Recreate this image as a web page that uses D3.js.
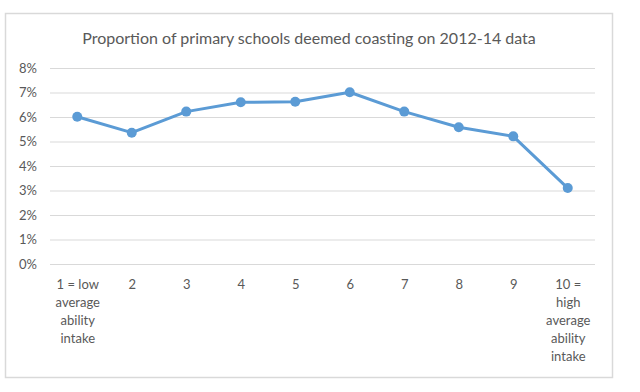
<!DOCTYPE html>
<html>
<head>
<meta charset="utf-8">
<script src="https://cdn.jsdelivr.net/npm/d3@7/dist/d3.min.js"></script>
<style>
  html, body { margin: 0; padding: 0; background: #ffffff; }
  svg { display: block; }
</style>
</head>
<body>
<svg id="chart" width="640" height="392"></svg>
<script>
const title = "Proportion of primary schools deemed coasting on 2012-14 data";
const categories = ["1","2","3","4","5","6","7","8","9","10"];
const categoryLabels = [
  "1 = low\naverage\nability\nintake",
  "2","3","4","5","6","7","8","9",
  "10 =\nhigh\naverage\nability\nintake"
];
const values = [6.01, 5.36, 6.22, 6.60, 6.62, 7.01, 6.22, 5.58, 5.21, 3.10];
const yTicks = [0, 1, 2, 3, 4, 5, 6, 7, 8];

const svg = d3.select("#chart");
const font = "Lato, 'Open Sans', sans-serif";
const textColor = "#595959";

// outer chart border
svg.append("rect")
  .attr("x", 5.5).attr("y", 13.5)
  .attr("width", 607).attr("height", 364)
  .attr("fill", "#ffffff")
  .attr("stroke", "#d9d9d9")
  .attr("stroke-width", 1.5);

const plotLeft = 50, plotRight = 595, plotTop = 68, plotBottom = 264;

const x = d3.scalePoint().domain(categories).range([plotLeft, plotRight]).padding(0.5);
const y = d3.scaleLinear().domain([0, 8]).range([plotBottom, plotTop]);

// gridlines + y labels
const yAxis = d3.axisLeft(y)
  .tickValues(yTicks)
  .tickSize(-(plotRight - plotLeft))
  .tickPadding(13)
  .tickFormat(d => d + "%");
const gy = svg.append("g").attr("transform", `translate(${plotLeft},0)`).call(yAxis);
gy.select(".domain").remove();
gy.selectAll(".tick line").attr("stroke", "#d9d9d9").attr("stroke-width", 1);
gy.selectAll(".tick text")
  .attr("fill", textColor)
  .style("font-family", font)
  .style("font-size", "13px");

// x labels
const xAxis = d3.axisBottom(x).tickSize(0).tickPadding(0).tickFormat("");
const gx = svg.append("g").attr("transform", `translate(0,${plotBottom})`).call(xAxis);
gx.select(".domain").remove();
gx.selectAll(".tick").each(function(d, i) {
  const lines = categoryLabels[i].split("\n");
  const t = d3.select(this).append("text")
    .attr("fill", textColor)
    .attr("text-anchor", "middle")
    .style("font-family", font)
    .style("font-size", "13px");
  lines.forEach((ln, j) => {
    t.append("tspan").attr("x", 0).attr("y", 25 + j * 18).text(ln);
  });
});

// line
const line = d3.line().x((d, i) => x(categories[i])).y(d => y(d));
svg.append("path")
  .datum(values)
  .attr("fill", "none")
  .attr("stroke", "#5b9bd5")
  .attr("stroke-width", 3)
  .attr("stroke-linejoin", "round")
  .attr("d", line);

svg.selectAll("circle.pt")
  .data(values)
  .join("circle")
  .attr("class", "pt")
  .attr("cx", (d, i) => x(categories[i]))
  .attr("cy", d => y(d))
  .attr("r", 5)
  .attr("fill", "#5b9bd5");

// title
svg.append("text")
  .attr("x", 309).attr("y", 44)
  .attr("text-anchor", "middle")
  .attr("fill", textColor)
  .style("font-family", font)
  .style("font-size", "16px")
  .text(title);
</script>
</body>
</html>
